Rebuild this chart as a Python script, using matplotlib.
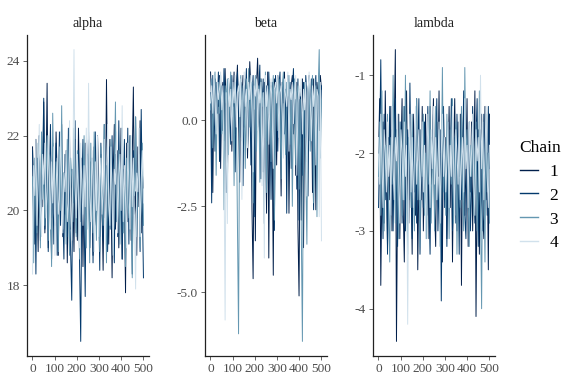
import numpy as np
import matplotlib
matplotlib.use("Agg")
import matplotlib.pyplot as plt
from matplotlib.lines import Line2D

plt.rcParams['font.family'] = ['Liberation Serif', 'DejaVu Serif']

# Data: trace values per chain (every 5th draw)
params = ["alpha", "beta", "lambda"]
chains = ["1", "2", "3", "4"]
chain_colors = ["#011f4b", "#03396c", "#6497b1", "#d1e1ec"]

alpha_1 = [21.7, 20.3, 19.1, 21.9, 20.6, 18.9, 22.0, 19.8, 21.2, 20.1, 22.9, 19.4, 20.8, 23.4, 19.0, 21.5, 20.2, 18.7, 21.8, 20.4,
           19.6, 22.1, 20.9, 18.8, 21.3, 20.0, 22.3, 19.3, 21.0, 19.9, 21.6, 18.6, 20.7, 22.0, 19.5, 21.1, 20.3, 18.9, 21.9, 20.5,
           19.2, 22.2, 20.6, 19.7, 21.4, 18.5, 20.9, 21.8, 19.4, 20.2, 22.1, 19.0, 21.3, 20.4, 18.8, 21.7, 20.0, 19.6, 22.0, 20.8,
           19.3, 21.5, 20.1, 18.4, 21.2, 19.8, 23.5, 20.3, 19.1, 21.9, 20.6, 18.2, 21.0, 22.3, 19.5, 20.7, 21.6, 19.0, 20.4, 22.2,
           18.7, 21.1, 20.2, 17.8, 21.8, 19.7, 20.9, 22.0, 19.2, 21.4, 23.3, 19.9, 20.5, 18.8, 21.7, 20.1, 22.4, 19.4, 21.0, 20.6]
alpha_2 = [21.6, 19.7, 20.8, 18.3, 21.4, 20.1, 22.0, 19.2, 20.6, 21.3, 23.0, 19.5, 20.2, 21.7, 18.9, 20.9, 22.3, 19.8, 21.0, 19.1,
           20.5, 21.8, 18.8, 20.3, 22.1, 19.6, 21.2, 20.0, 18.7, 21.5, 20.7, 19.3, 22.2, 20.4, 18.9, 17.6, 21.1, 20.2, 22.4, 19.4,
           20.8, 21.6, 18.5, 16.5, 20.6, 21.9, 19.9, 17.7, 21.3, 20.1, 22.0, 19.0, 20.5, 21.4, 18.6, 20.9, 22.1, 19.7, 21.0, 20.3,
           18.4, 21.8, 20.0, 19.2, 22.3, 20.6, 21.2, 18.9, 20.4, 21.7, 19.5, 22.0, 20.1, 18.6, 21.5, 20.8, 19.3, 22.4, 20.2, 21.1,
           18.7, 20.5, 21.9, 19.6, 20.0, 22.2, 19.1, 21.3, 20.7, 18.3, 21.6, 20.4, 22.5, 19.8, 20.9, 21.4, 18.9, 22.7, 20.2, 18.2]
alpha_3 = [20.9, 18.6, 21.4, 20.2, 19.4, 21.8, 20.6, 19.0, 22.1, 20.3, 21.2, 19.6, 20.8, 22.0, 19.2, 21.5, 20.1, 18.5, 22.6, 20.7,
           19.8, 21.3, 20.4, 18.9, 21.7, 20.0, 22.8, 19.5, 21.0, 20.6, 19.1, 21.9, 20.2, 18.8, 21.4, 20.9, 19.7, 22.2, 20.3, 19.3,
           21.6, 20.5, 18.7, 21.1, 20.8, 19.9, 22.0, 20.1, 19.0, 21.5, 20.7, 18.6, 21.8, 20.2, 19.4, 22.1, 20.6, 19.2, 21.2, 20.0,
           18.9, 21.7, 20.4, 19.6, 22.3, 20.8, 18.6, 21.3, 20.1, 19.5, 21.9, 20.5, 18.8, 21.0, 22.9, 19.7, 20.3, 21.6, 19.1, 20.9,
           22.2, 19.4, 20.6, 18.5, 21.4, 20.2, 19.8, 22.0, 20.7, 18.2, 21.1, 20.4, 22.5, 19.3, 20.8, 21.5, 19.0, 20.1, 21.8, 19.6]
alpha_4 = [18.3, 21.2, 20.4, 21.9, 19.6, 20.8, 22.3, 20.1, 19.3, 21.5, 20.7, 21.8, 19.8, 20.5, 22.0, 20.9, 19.5, 21.3, 20.2, 21.7,
           18.8, 20.6, 21.4, 19.9, 20.3, 22.1, 20.8, 19.4, 21.0, 20.5, 21.6, 19.7, 20.2, 22.4, 20.0, 19.2, 21.1, 24.3, 20.6, 19.8,
           21.5, 20.3, 19.0, 21.8, 20.7, 19.6, 21.2, 20.1, 22.2, 19.5, 23.4, 20.4, 19.7, 21.6, 20.9, 18.9, 21.3, 20.0, 22.0, 19.3,
           20.8, 21.4, 19.9, 20.5, 21.9, 19.1, 20.6, 22.3, 20.2, 19.6, 21.7, 20.4, 18.8, 21.1, 20.7, 22.1, 19.4, 20.9, 21.5, 20.0,
           22.8, 19.7, 21.2, 20.3, 19.0, 21.8, 20.6, 19.5, 22.0, 20.1, 21.4, 19.8, 17.9, 21.0, 20.5, 22.2, 19.3, 20.8, 21.6, 20.2]

beta_1 = [1.4, 0.6, -2.1, 0.9, 1.2, -0.3, 1.0, 0.4, 1.3, -1.4, 0.8, 1.1, -0.6, 1.5, 0.2, -2.0, 1.0, 0.7, 1.2, -0.9,
          0.5, 1.4, -0.4, 0.9, 1.6, 0.1, -1.8, 1.1, 0.6, 1.3, -0.2, 0.8, 1.2, -1.1, 0.4, 1.7, 0.9, -2.6, -4.6, 0.3,
          -3.5, 1.0, 1.8, 0.5, -0.7, 1.2, 0.8, -1.5, 1.1, 0.2, -2.7, 1.4, -4.0, 0.7, 1.0, -0.5, -4.5, 1.2, 0.6, -1.3,
          1.3, 0.9, 0.1, -2.2, 1.1, 0.5, 1.4, -0.8, 0.7, 1.2, -2.7, 0.3, 1.0, 1.3, -0.4, 0.8, -1.6, 1.1, -3.1, -5.1,
          0.6, -2.9, 1.2, -3.7, 0.4, 1.0, -1.2, 0.8, 1.3, -0.6, 0.9, -2.1, 1.2, 0.5, -2.6, 1.1, 0.7, -0.3, 1.3, 0.9]
beta_2 = [0.8, -2.4, 1.3, 0.5, -0.9, 1.1, 0.2, 1.4, -1.2, 0.7, 1.0, -0.3, 1.5, 0.6, -2.1, 0.9, 1.2, 0.1, -0.7, 1.3,
          0.4, 1.0, -1.5, 0.8, 1.4, 0.3, -0.5, 1.1, 0.9, -1.9, 1.2, 0.6, 1.5, -0.8, 0.2, 1.0, -1.3, 0.7, 1.3, -2.8,
          0.5, 1.1, -0.2, 0.9, 1.6, -1.7, 0.4, 1.2, -3.0, 0.8, 1.0, -0.6, 1.4, 0.3, -2.3, 1.1, 0.7, -3.2, 1.3, 0.5,
          -0.9, 1.0, 1.4, -1.1, 0.6, 1.2, -0.4, 0.9, -2.7, 1.3, 0.2, 1.1, -1.4, 0.8, 1.5, -0.1, 0.6, -2.0, 1.2, -2.9,
          0.9, 0.3, -1.6, 1.1, -0.5, 1.3, 0.7, -2.2, 1.0, 0.4, 1.2, -0.8, -2.6, 0.9, 1.3, -1.0, 0.6, 1.1, -0.2, 1.0]
beta_3 = [0.3, 1.2, -0.8, 0.9, 1.4, -1.6, 0.6, 1.1, 0.2, 1.3, -0.4, 0.8, -2.6, 1.0, 0.5, 1.2, -1.0, 0.7, 1.4, 0.1,
          0.9, -1.9, 1.1, 0.4, -3.0, -6.2, 0.8, 1.3, -0.6, 1.0, 0.5, -1.4, 1.2, 0.3, 1.5, -0.2, 0.9, 1.1, -2.4, 0.6,
          1.3, -0.9, 0.7, 1.0, -1.8, 1.2, 0.4, 0.8, -0.5, 1.4, -2.1, 0.9, 0.2, 1.1, -1.2, 0.6, 1.3, -2.9, 0.8, 1.0,
          -0.3, 1.2, 0.5, -1.7, 0.9, 1.4, 0.1, -1.0, 1.1, 0.7, 1.3, -0.7, 0.9, -2.5, 0.4, 1.2, -1.3, 0.8, 1.0, -2.0,
          0.6, -3.2, -6.42, 0.3, 1.1, -1.5, -3.6, 0.9, 1.2, -0.9, 0.7, 1.3, -2.4, 0.5, 1.0, -2.8, 0.8, 2.05, -1.1, 0.6]
beta_4 = [0.5, 1.0, 0.2, 1.3, 0.7, -0.4, 1.1, 0.6, 0.9, 1.4, 0.3, 1.0, -1.2, -5.8, 0.8, -3.0, 1.2, 0.4, 0.9, -0.6,
          1.1, 0.5, 1.3, -0.2, 0.8, 1.0, 0.1, 1.2, -2.3, 0.7, 1.4, 0.4, 0.9, -0.8, 1.1, 0.6, 1.3, 0.2, -1.5, 1.0,
          0.7, 1.2, -0.3, 0.9, 0.5, 1.1, -1.9, 0.8, -4.0, 1.3, 0.4, 1.0, -0.7, 0.6, 1.2, 0.3, -1.4, 0.9, 1.1, 0.5,
          1.3, -0.5, 0.8, 1.0, 0.2, -1.1, 1.2, 0.7, 0.4, 1.4, -0.9, 0.9, 0.6, 1.1, -0.1, 0.8, 1.3, -1.6, 0.5, 1.0,
          0.7, 1.2, -0.4, 0.9, 0.3, 1.1, -2.2, 0.8, 1.4, 0.6, -0.6, 1.0, 0.4, 1.2, -1.3, 0.9, 0.7, -2.8, 1.1, -3.5]

lambda_1 = [-2.0, -1.3, -3.7, -2.4, -1.6, -2.9, -1.2, -2.2, -3.2, -1.8, -2.6, -1.4, -3.0, -2.1, -1.7, -0.67, -4.42, -2.5, -1.5, -3.1,
            -2.0, -1.3, -2.7, -3.4, -1.9, -1.2, -2.5, -2.9, -1.6, -2.2, -3.3, -1.5, -2.0, -2.8, -1.3, -3.5, -2.3, -1.7, -2.6, -1.4,
            -3.0, -2.1, -1.5, -2.8, -1.9, -3.1, -1.4, -2.4, -2.0, -1.3, -2.7, -3.2, -1.6, -2.3, -1.2, -2.9, -2.0, -3.4, -1.5, -2.6,
            -1.8, -3.1, -2.2, -1.4, -2.7, -1.7, -3.4, -2.1, -1.3, -2.5, -3.0, -1.6, -2.3, -1.5, -3.7, -2.0, -1.4, -2.8, -2.2, -1.3,
            -3.2, -1.9, -2.5, -1.6, -3.0, -2.1, -1.2, -4.1, -2.4, -1.7, -3.3, -2.0, -1.5, -2.8, -3.1, -1.4, -2.6, -2.0, -3.5, -1.5]
lambda_2 = [-2.7, -1.9, -0.8, -2.3, -3.1, -1.5, -2.6, -1.9, -3.3, -2.2, -1.4, -2.8, -1.7, -3.0, -2.0, -1.3, -2.5, -3.2, -1.8, -2.4,
            -1.6, -2.9, -2.1, -1.4, -3.0, -2.3, -1.7, -2.6, -1.1, -2.2, -3.1, -1.8, -2.5, -1.5, -2.9, -2.0, -1.3, -3.3, -2.4, -1.9,
            -2.7, -1.6, -3.0, -2.2, -1.4, -2.6, -3.3, -1.8, -2.1, -1.5, -2.8, -2.0, -1.3, -3.0, -2.4, -1.7, -3.9, -2.2, -1.4, -2.7,
            -1.9, -3.2, -1.6, -2.5, -2.1, -1.3, -3.0, -2.4, -1.8, -2.9, -1.5, -2.2, -3.3, -1.7, -2.6, -2.0, -1.2, -2.8, -3.1, -1.9,
            -2.3, -1.6, -3.0, -2.5, -1.4, -2.2, -2.9, -1.8, -1.3, -3.2, -2.1, -1.7, -2.6, -3.0, -1.5, -2.3, -1.9, -2.8, -1.4, -2.2]
lambda_3 = [-2.3, -1.6, -2.8, -1.2, -2.5, -3.0, -1.9, -2.2, -1.5, -2.7, -3.4, -1.8, -2.4, -1.0, -2.1, -2.9, -1.7, -2.5, -3.1, -1.6,
            -2.2, -2.8, -1.4, -2.6, -1.0, -2.3, -3.3, -1.8, -2.0, -2.7, -1.5, -2.4, -3.0, -1.9, -1.3, -2.6, -2.1, -3.2, -1.7, -2.3,
            -1.5, -2.8, -2.0, -3.1, -1.6, -2.4, -1.2, -2.9, -2.2, -1.8, -3.0, -1.4, -2.6, -2.1, -1.7, -3.2, -2.3, -0.9, -2.5, -1.9,
            -2.8, -1.5, -2.2, -3.1, -1.7, -2.4, -1.3, -2.9, -2.0, -1.6, -3.3, -2.2, -1.8, -2.7, -1.4, -2.5, -3.0, -0.9, -2.1, -1.7,
            -2.6, -3.2, -1.9, -2.3, -1.5, -2.8, -2.0, -1.6, -3.0, -2.4, -1.2, -2.7, -4.0, -1.8, -2.2, -3.4, -1.5, -2.5, -2.0, -2.9]
lambda_4 = [-1.8, -2.4, -1.5, -2.1, -2.7, -1.7, -2.0, -2.5, -1.6, -2.3, -1.9, -2.8, -1.4, -2.2, -2.6, -1.8, -2.1, -1.5, -2.4, -2.9,
            -1.7, -2.0, -2.6, -1.6, -2.3, -1.9, -4.2, -2.2, -1.5, -2.5, -1.8, -2.7, -2.1, -1.4, -2.4, -2.0, -1.7, -2.6, -2.2, -1.6,
            -2.5, -1.9, -3.1, -2.3, -1.5, -2.0, -2.7, -1.7, -2.2, -1.4, -2.4, -1.8, -2.6, -2.1, -1.6, -2.9, -2.0, -1.5, -2.3, -1.8,
            -2.5, -2.1, -1.6, -2.7, -1.9, -2.3, -1.4, -2.2, -2.8, -1.7, -2.0, -2.4, -1.5, -2.6, -2.1, -1.8, -2.5, -1.3, -2.2, -1.9,
            -2.7, -1.6, -2.3, -2.0, -1.5, -2.4, -2.8, -1.7, -2.1, -1.8, -2.5, -1.0, -2.2, -1.6, -2.6, -2.0, -1.4, -2.3, -2.7, -1.9]

traces = {
    "alpha": [alpha_1, alpha_2, alpha_3, alpha_4],
    "beta": [beta_1, beta_2, beta_3, beta_4],
    "lambda": [lambda_1, lambda_2, lambda_3, lambda_4],
}
yticks = {
    "alpha": ([18, 20, 22, 24], ["18", "20", "22", "24"]),
    "beta": ([-5.0, -2.5, 0.0], ["-5.0", "-2.5", "0.0"]),
    "lambda": ([-4, -3, -2, -1], ["-4", "-3", "-2", "-1"]),
}
xticks = [0, 100, 200, 300, 400, 500]
n_iter = 500

W, H = 576, 384
fig = plt.figure(figsize=(W / 100, H / 100), dpi=100)
panel_left = [27, 205, 373]
panel_w, panel_top, panel_bottom = 122, 35, 356

tick_col = "#4d4d4d"
for i, p in enumerate(params):
    ax = fig.add_axes([panel_left[i] / W, (H - panel_bottom) / H,
                       panel_w / W, (panel_bottom - panel_top) / H])
    for vals, col in zip(traces[p], chain_colors):
        it = np.linspace(1, n_iter, len(vals))
        ax.plot(it, vals, color=col, lw=0.7)
    ax.set_xlim(1 - 0.05 * (n_iter - 1), n_iter + 0.05 * (n_iter - 1))
    ax.margins(y=0.05)
    ax.set_xticks(xticks)
    ax.set_yticks(yticks[p][0])
    ax.set_yticklabels(yticks[p][1])
    for s in ["top", "right"]:
        ax.spines[s].set_visible(False)
    for s in ["left", "bottom"]:
        ax.spines[s].set_linewidth(0.9)
        ax.spines[s].set_color("#222222")
    ax.tick_params(length=3, width=0.6, color=tick_col, labelcolor=tick_col,
                   labelsize=9.6, pad=2)
    ax.set_title(p, fontsize=10, pad=6, color="#222222")

handles = [Line2D([], [], color=c, lw=1.0) for c in chain_colors]
leg = fig.legend(handles, chains, title="Chain", loc="upper left",
                 bbox_to_anchor=(504 / W, 1 - 124 / H), frameon=False,
                 fontsize=12.5, title_fontsize=12.5, handlelength=1.05,
                 handletextpad=0.65, labelspacing=0.45)
leg._legend_box.align = "left"

fig.savefig("out.png", dpi=100)
